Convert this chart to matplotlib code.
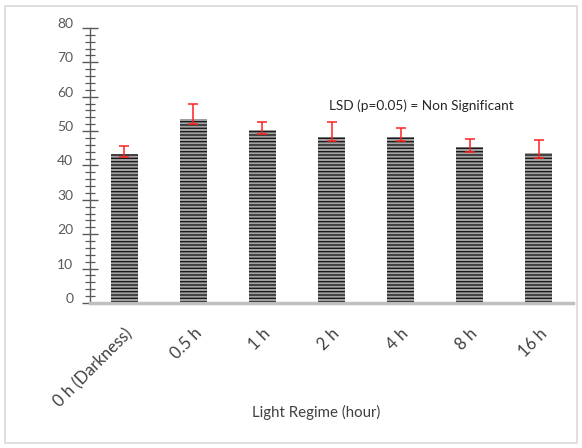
"""Bar chart: response vs light regime (mean with error bars), LSD note."""

import matplotlib

matplotlib.use("Agg")
import matplotlib.pyplot as plt
import matplotlib.transforms as mtransforms
from matplotlib.patches import Rectangle
from matplotlib.ticker import MultipleLocator

categories = ["0 h (Darkness)", "0.5 h", "1 h", "2 h", "4 h", "8 h", "16 h"]
means = [43.3, 53.5, 50.3, 48.3, 48.3, 45.3, 43.6]
err_low = [0.9, 1.5, 1.2, 1.2, 1.2, 1.4, 1.4]
err_high = [2.3, 4.3, 2.3, 4.3, 2.6, 2.4, 3.8]
y_ticks = [0, 10, 20, 30, 40, 50, 60, 70, 80]

plt.rcParams["font.family"] = ["Lato", "DejaVu Sans"]

fig = plt.figure(figsize=(5.82, 4.48), dpi=100)
fig.patches.append(
    Rectangle((0.009, 0.011), 0.982, 0.975, transform=fig.transFigure,
              fill=False, edgecolor="#d9d9d9", linewidth=1.2)
)
ax = fig.add_axes([0.1546, 0.3237, 0.83, 0.6138])

x = range(len(categories))
ax.bar(x, means, width=0.38, color="#a3a3a3", edgecolor="#1a1a1a",
       hatch="-----", linewidth=0.0, zorder=2)
ax.errorbar(x, means, yerr=[err_low, err_high], fmt="none", ecolor="#ff2020",
            elinewidth=1.1, capsize=3.8, capthick=1.1, zorder=3)

ax.set_xlim(-0.5, len(categories) - 0.5)
ax.set_ylim(0, 80)
ax.set_yticks(y_ticks)
ax.set_yticklabels([str(v) for v in y_ticks])
ax.yaxis.set_minor_locator(MultipleLocator(2))
ax.tick_params(axis="y", which="major", direction="inout", length=12,
               width=1.0, color="#595959", labelsize=10,
               labelcolor="#595959", pad=6)
ax.tick_params(axis="y", which="minor", direction="inout", length=7,
               width=0.9, color="#595959")
offset = mtransforms.ScaledTranslation(0, 5 / 100, fig.dpi_scale_trans)
for lab in ax.get_yticklabels():
    lab.set_transform(lab.get_transform() + offset)

ax.set_xticks(list(x))
ax.set_xticklabels(categories, rotation=45, ha="right",
                   rotation_mode="anchor", fontsize=12, color="#404040")
ax.tick_params(axis="x", length=0, pad=16)

for side in ("top", "right"):
    ax.spines[side].set_visible(False)
ax.spines["left"].set_color("#595959")
ax.spines["left"].set_linewidth(1.0)
ax.spines["bottom"].set_color("#bfbfbf")
ax.spines["bottom"].set_linewidth(2.5)

ax.text(4.3, 57.3, "LSD (p=0.05) = Non Significant", ha="center", va="center",
        fontsize=9.8, color="#262626")

fig.text(316 / 582, 1 - 412 / 448, "Light Regime (hour)", ha="center",
         va="center", fontsize=10.8, color="#404040")

fig.savefig("out.png", dpi=100)
